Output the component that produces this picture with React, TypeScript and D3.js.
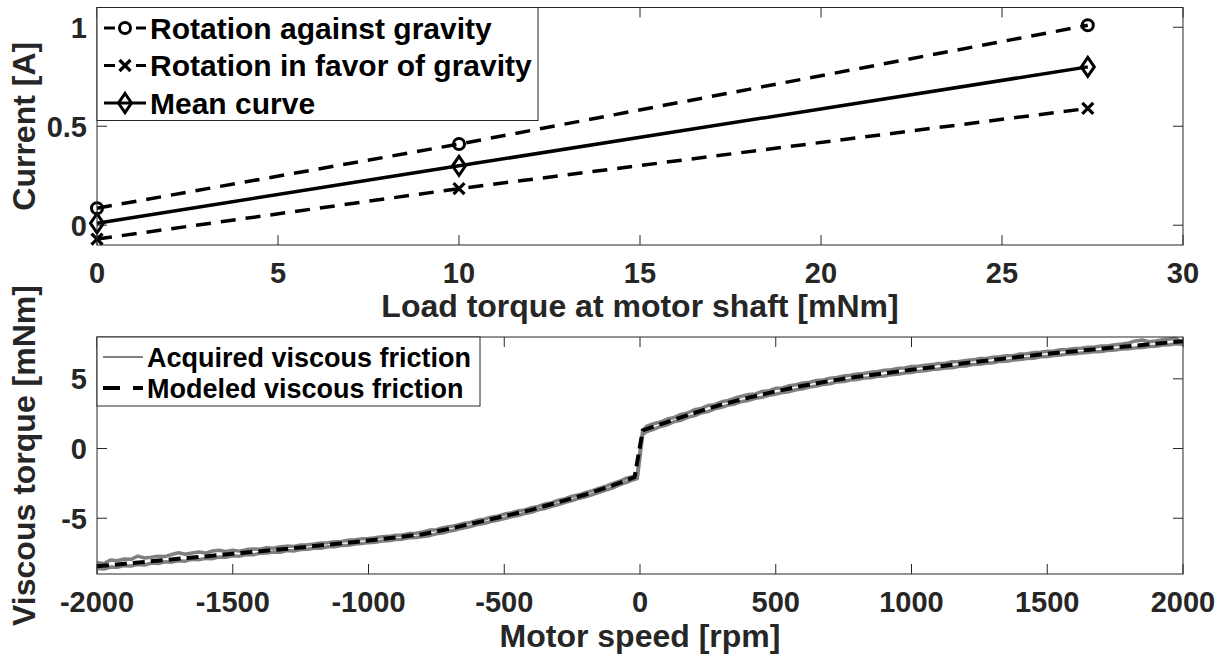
import React from "react";
import * as d3 from "d3";

// ---------- Top plot data ----------
const loadTorque = [0, 10, 27.37];
const currentAgainst = [0.086, 0.41, 1.01];
const currentFavor = [-0.07, 0.185, 0.59];
const currentMean = [0.01, 0.3, 0.8];
const topXTicks = [0, 5, 10, 15, 20, 25, 30];
const topYTicks = [0, 0.5, 1];
const topYTickLabels = ["0", "0.5", "1"];

// ---------- Bottom plot data ----------
const modelSpeed = [-2000, -1750, -1500, -1250, -1000, -800, -700, -600, -500, -400, -300, -200, -100, -20, 10, 100, 200, 300, 400, 500, 600, 700, 800, 1000, 1250, 1500, 1750, 2000];
const modelTorque = [-8.45, -8.0, -7.55, -7.1, -6.6, -6.15, -5.75, -5.3, -4.85, -4.4, -3.85, -3.3, -2.65, -2.05, 1.3, 1.9, 2.55, 3.15, 3.65, 4.1, 4.5, 4.85, 5.15, 5.65, 6.25, 6.8, 7.25, 7.7];

const acqSpeed = [
  -2000, -1975, -1950, -1925, -1900, -1875, -1850, -1825, -1800, -1775, -1750, -1725, -1700, -1675, -1650, -1625, -1600, -1575, -1550, -1525,
  -1500, -1475, -1450, -1425, -1400, -1375, -1350, -1325, -1300, -1275, -1250, -1225, -1200, -1175, -1150, -1125, -1100, -1075, -1050, -1025,
  -1000, -975, -950, -925, -900, -875, -850, -825, -800, -775, -750, -725, -700, -675, -650, -625, -600, -575, -550, -525,
  -500, -475, -450, -425, -400, -375, -350, -325, -300, -275, -250, -225, -200, -175, -150, -125, -100, -75, -50, -25,
  -10, 0, 10,
  25, 50, 75, 100, 125, 150, 175, 200, 225, 250, 275, 300, 325, 350, 375, 400, 425, 450, 475, 500,
  525, 550, 575, 600, 625, 650, 675, 700, 725, 750, 775, 800, 825, 850, 875, 900, 925, 950, 975, 1000,
  1025, 1050, 1075, 1100, 1125, 1150, 1175, 1200, 1225, 1250, 1275, 1300, 1325, 1350, 1375, 1400, 1425, 1450, 1475, 1500,
  1525, 1550, 1575, 1600, 1625, 1650, 1675, 1700, 1725, 1750, 1775, 1800, 1825, 1850, 1875, 1900, 1925, 1950, 1975, 2000,
];
const acqTorqueA = [
  -8.2, -8.25, -8.0, -8.05, -7.92, -7.95, -7.72, -7.85, -7.8, -7.72, -7.75, -7.6, -7.48, -7.58, -7.5, -7.42, -7.5, -7.35, -7.3, -7.38,
  -7.3, -7.36, -7.25, -7.2, -7.22, -7.12, -7.15, -7.05, -7.0, -7.02, -6.92, -6.9, -6.85, -6.78, -6.75, -6.68, -6.66, -6.58, -6.55, -6.48,
  -6.45, -6.4, -6.32, -6.3, -6.22, -6.2, -6.1, -6.08, -5.98, -5.85, -5.82, -5.68, -5.6, -5.5, -5.38, -5.3, -5.15, -5.08, -4.92, -4.85,
  -4.7, -4.62, -4.48, -4.4, -4.25, -4.15, -3.98, -3.88, -3.7, -3.6, -3.42, -3.32, -3.15, -3.02, -2.85, -2.7, -2.5, -2.35, -2.12, -2.0,
  -1.85, -0.2, 1.3,
  1.6, 1.78, 1.9, 2.12, 2.22, 2.45, 2.55, 2.78, 2.88, 3.08, 3.15, 3.35, 3.45, 3.62, 3.75, 3.88, 3.92, 4.1, 4.15, 4.32,
  4.35, 4.5, 4.58, 4.7, 4.75, 4.88, 4.92, 5.05, 5.1, 5.2, 5.25, 5.35, 5.38, 5.48, 5.52, 5.62, 5.65, 5.75, 5.78, 5.88,
  5.9, 5.98, 6.02, 6.1, 6.12, 6.22, 6.25, 6.32, 6.36, 6.45, 6.46, 6.55, 6.58, 6.66, 6.68, 6.78, 6.8, 6.88, 6.9, 6.98,
  7.0, 7.08, 7.1, 7.18, 7.2, 7.26, 7.28, 7.36, 7.38, 7.45, 7.5, 7.58, 7.72, 7.78, 7.66, 7.72, 7.8, 7.85, 7.9, 7.45,
];
const acqTorqueB = [
  -8.6, -8.65, -8.5, -8.52, -8.4, -8.42, -8.32, -8.35, -8.22, -8.25, -8.12, -8.15, -8.05, -8.08, -7.95, -7.98, -7.88, -7.9, -7.78, -7.8,
  -7.7, -7.72, -7.6, -7.62, -7.52, -7.5, -7.42, -7.44, -7.32, -7.35, -7.25, -7.22, -7.15, -7.16, -7.05, -7.04, -6.95, -6.94, -6.85, -6.82,
  -6.75, -6.72, -6.64, -6.62, -6.52, -6.5, -6.4, -6.38, -6.32, -6.25, -6.12, -6.05, -5.92, -5.82, -5.7, -5.6, -5.46, -5.38, -5.24, -5.14,
  -5.02, -4.9, -4.8, -4.66, -4.57, -4.4, -4.3, -4.14, -4.02, -3.86, -3.74, -3.58, -3.47, -3.3, -3.14, -2.98, -2.82, -2.6, -2.42, -2.25,
  -2.15, -0.6, 1.0,
  1.22, 1.38, 1.58, 1.7, 1.92, 2.02, 2.24, 2.35, 2.55, 2.65, 2.85, 2.95, 3.12, 3.2, 3.38, 3.45, 3.6, 3.68, 3.82, 3.9,
  4.02, 4.08, 4.22, 4.28, 4.42, 4.48, 4.6, 4.65, 4.78, 4.8, 4.92, 4.95, 5.05, 5.08, 5.18, 5.2, 5.3, 5.32, 5.42, 5.45,
  5.55, 5.58, 5.66, 5.7, 5.78, 5.8, 5.9, 5.92, 6.02, 6.05, 6.12, 6.15, 6.25, 6.26, 6.35, 6.38, 6.46, 6.48, 6.58, 6.6,
  6.68, 6.7, 6.78, 6.8, 6.86, 6.88, 6.95, 6.96, 7.04, 7.06, 7.14, 7.15, 7.22, 7.25, 7.32, 7.33, 7.42, 7.45, 7.52, 7.5,
];
const botXTicks = [-2000, -1500, -1000, -500, 0, 500, 1000, 1500, 2000];
const botYTicks = [-5, 0, 5];

const topLegend = ["Rotation against gravity", "Rotation in favor of gravity", "Mean curve"];
const botLegend = ["Acquired viscous friction", "Modeled viscous friction"];

const FONT = "'Liberation Sans', Arial, Helvetica, sans-serif";
const AXC = "#262626";
const GRAY = "#808080";

const L = 97, R = 1183;
const topT = 7.5, topB = 245;
const botT = 337, botB = 574;
const TICKFS = 29;
const LABELFS = 32;

function Marker({ kind, x, y }: { kind: string; x: number; y: number }) {
  if (kind === "o") return <circle cx={x} cy={y} r={5.5} fill="none" stroke="#000" strokeWidth={3} />;
  if (kind === "x")
    return (
      <path d={`M${x - 5.5},${y - 5.5}L${x + 5.5},${y + 5.5}M${x - 5.5},${y + 5.5}L${x + 5.5},${y - 5.5}`} stroke="#000" strokeWidth={3.2} />
    );
  return <path d={`M${x},${y - 9.5}L${x + 6.5},${y}L${x},${y + 9.5}L${x - 6.5},${y}Z`} fill="none" stroke="#000" strokeWidth={3} />;
}

export default function App() {
  const xTop = d3.scaleLinear().domain([0, 30]).range([L, R]);
  const yTop = d3.scaleLinear().domain([-0.1, 1.1]).range([topB, topT]);
  const xBot = d3.scaleLinear().domain([-2000, 2000]).range([L, R]);
  const yBot = d3.scaleLinear().domain([-9, 8]).range([botB, botT]);

  const lineTop = d3.line<number>().x((_, i) => xTop(loadTorque[i])).y((d) => yTop(d));
  const lineModel = d3.line<number>().x((_, i) => xBot(modelSpeed[i])).y((d) => yBot(d));
  const lineAcq = d3.line<number>().x((_, i) => xBot(acqSpeed[i])).y((d) => yBot(d));

  const series = [
    { vals: currentAgainst, mk: "o", dash: "15 10" },
    { vals: currentFavor, mk: "x", dash: "15 10" },
    { vals: currentMean, mk: "d", dash: null },
  ];

  const tickLen = 10;

  return (
    <svg width={1227} height={655} style={{ position: "absolute", left: 0, top: 0, background: "#fff" }} fontFamily={FONT} fontWeight="bold">
      <rect width={1227} height={655} fill="#fff" />
      {/* ---------- TOP PLOT ---------- */}
      <g>
        {topXTicks.map((t) => (
          <g key={"tx" + t}>
            <line x1={xTop(t)} x2={xTop(t)} y1={topB} y2={topB - tickLen} stroke={AXC} />
            <line x1={xTop(t)} x2={xTop(t)} y1={topT} y2={topT + tickLen} stroke={AXC} />
            <text x={xTop(t)} y={283} textAnchor="middle" fontSize={TICKFS} fill={AXC}>{t}</text>
          </g>
        ))}
        {topYTicks.map((t, i) => (
          <g key={"ty" + t}>
            <line x1={L} x2={L + tickLen} y1={yTop(t)} y2={yTop(t)} stroke={AXC} />
            <line x1={R} x2={R - tickLen} y1={yTop(t)} y2={yTop(t)} stroke={AXC} />
            <text x={L - 10} y={yTop(t) + 10.5} textAnchor="end" fontSize={TICKFS} fill={AXC}>{topYTickLabels[i]}</text>
          </g>
        ))}
        {series.map((s, k) => (
          <g key={"s" + k}>
            <path d={lineTop(s.vals) || ""} fill="none" stroke="#000" strokeWidth={3.5} strokeDasharray={s.dash || undefined} />
            {s.vals.map((v, i) => <Marker key={i} kind={s.mk} x={xTop(loadTorque[i])} y={yTop(v)} />)}
          </g>
        ))}
        <rect x={L} y={topT} width={R - L} height={topB - topT} fill="none" stroke={AXC} strokeWidth={1} />
        {/* legend */}
        <rect x={L} y={topT} width={441} height={113} fill="#fff" stroke={AXC} strokeWidth={1} />
        {topLegend.map((name, i) => {
          const y = 28 + i * 37.5;
          const s = series[i];
          return (
            <g key={"lg" + i}>
              {s.dash ? (
                <>
                  <line x1={104} x2={115} y1={y} y2={y} stroke="#000" strokeWidth={3} />
                  <line x1={136} x2={146} y1={y} y2={y} stroke="#000" strokeWidth={3} />
                </>
              ) : (
                <line x1={104} x2={146} y1={y} y2={y} stroke="#000" strokeWidth={3} />
              )}
              <Marker kind={s.mk} x={125} y={y} />
              <text x={150} y={y + 10.5} fontSize={30} fill="#000">{name}</text>
            </g>
          );
        })}
        <text x={(L + R) / 2} y={317} textAnchor="middle" fontSize={LABELFS} fill={AXC}>Load torque at motor shaft [mNm]</text>
        <text transform={`translate(35,${(topT + topB) / 2}) rotate(-90)`} textAnchor="middle" fontSize={LABELFS} fill={AXC}>Current [A]</text>
      </g>

      {/* ---------- BOTTOM PLOT ---------- */}
      <g>
        {botXTicks.map((t) => (
          <g key={"bx" + t}>
            <line x1={xBot(t)} x2={xBot(t)} y1={botB} y2={botB - tickLen} stroke={AXC} />
            <line x1={xBot(t)} x2={xBot(t)} y1={botT} y2={botT + tickLen} stroke={AXC} />
            <text x={xBot(t)} y={612} textAnchor="middle" fontSize={TICKFS} fill={AXC}>{t}</text>
          </g>
        ))}
        {botYTicks.map((t) => (
          <g key={"by" + t}>
            <line x1={L} x2={L + tickLen} y1={yBot(t)} y2={yBot(t)} stroke={AXC} />
            <line x1={R} x2={R - tickLen} y1={yBot(t)} y2={yBot(t)} stroke={AXC} />
            <text x={L - 10} y={yBot(t) + 10.5} textAnchor="end" fontSize={TICKFS} fill={AXC}>{t}</text>
          </g>
        ))}
        <path d={lineAcq(acqTorqueA) || ""} fill="none" stroke={GRAY} strokeWidth={3.5} strokeLinejoin="round" />
        <path d={lineAcq(acqTorqueB) || ""} fill="none" stroke={GRAY} strokeWidth={3.5} strokeLinejoin="round" />
        <path d={lineModel(modelTorque) || ""} fill="none" stroke="#000" strokeWidth={4} strokeDasharray="12 6" />
        <rect x={L} y={botT} width={R - L} height={botB - botT} fill="none" stroke={AXC} strokeWidth={1} />
        {/* legend */}
        <rect x={L} y={botT} width={383} height={69} fill="#fff" stroke={AXC} strokeWidth={1} />
        <line x1={103} x2={143} y1={357} y2={357} stroke={GRAY} strokeWidth={2} />
        <text x={147} y={367} fontSize={27} fill="#000">{botLegend[0]}</text>
        <line x1={103} x2={143} y1={388} y2={388} stroke="#000" strokeWidth={4} strokeDasharray="17 13" />
        <text x={147} y={398} fontSize={27} fill="#000">{botLegend[1]}</text>
        <text x={(L + R) / 2} y={647} textAnchor="middle" fontSize={LABELFS} fill={AXC}>Motor speed [rpm]</text>
        <text transform={`translate(35,${(botT + botB) / 2}) rotate(-90)`} textAnchor="middle" fontSize={LABELFS} fill={AXC}>Viscous torque [mNm]</text>
      </g>
    </svg>
  );
}
